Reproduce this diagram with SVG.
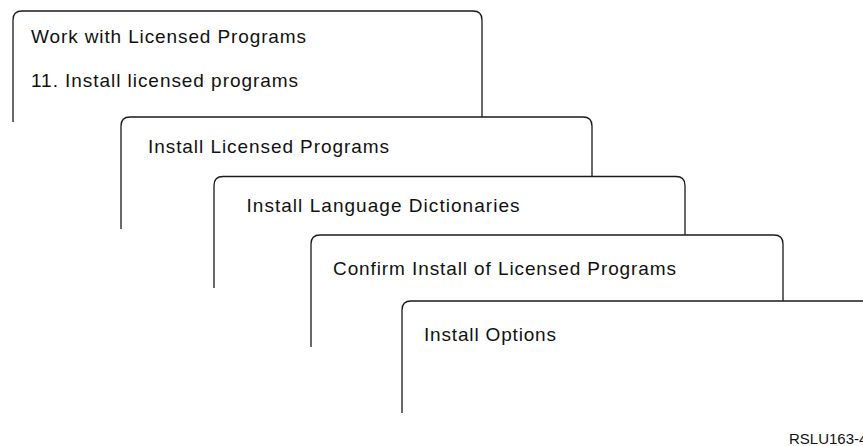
<svg xmlns="http://www.w3.org/2000/svg" width="863" height="446" viewBox="0 0 863 446">
<style>
.frame{fill:none;stroke:#1a1a1a;stroke-width:1.3;stroke-linejoin:round}
.t{font-family:"Liberation Sans",Arial,sans-serif;font-size:19px;fill:#111}
.id{font-family:"Liberation Sans",Arial,sans-serif;font-size:15px;fill:#111}
</style>
<rect width="863" height="446" fill="#fff"/>
<g id="screen1">
<path class="frame" d="M13,122 V20 Q13,11 22,11 H473 Q482,11 482,20 V117"/>
<text class="t" x="31" y="43" textLength="275" lengthAdjust="spacing">Work with Licensed Programs</text>
<text class="t" x="31" y="87" textLength="267" lengthAdjust="spacing">11. Install licensed programs</text>
</g>
<g id="screen2">
<path class="frame" d="M121,229 V126 Q121,117 130,117 H583 Q592,117 592,126 V176.5"/>
<text class="t" x="148" y="153" textLength="241" lengthAdjust="spacing">Install Licensed Programs</text>
</g>
<g id="screen3">
<path class="frame" d="M214,288 V185.5 Q214,176.5 223,176.5 H676 Q685,176.5 685,185.5 V235"/>
<text class="t" x="246.5" y="211.5" textLength="273" lengthAdjust="spacing">Install Language Dictionaries</text>
</g>
<g id="screen4">
<path class="frame" d="M311,347 V244 Q311,235 320,235 H774 Q783,235 783,244 V301"/>
<text class="t" x="333" y="275" textLength="343" lengthAdjust="spacing">Confirm Install of Licensed Programs</text>
</g>
<g id="screen5">
<path class="frame" d="M402,413 V310 Q402,301 411,301 H870"/>
<text class="t" x="424" y="341" textLength="132" lengthAdjust="spacing">Install Options</text>
</g>
<text class="id" x="789" y="444">RSLU163-4</text>
</svg>
